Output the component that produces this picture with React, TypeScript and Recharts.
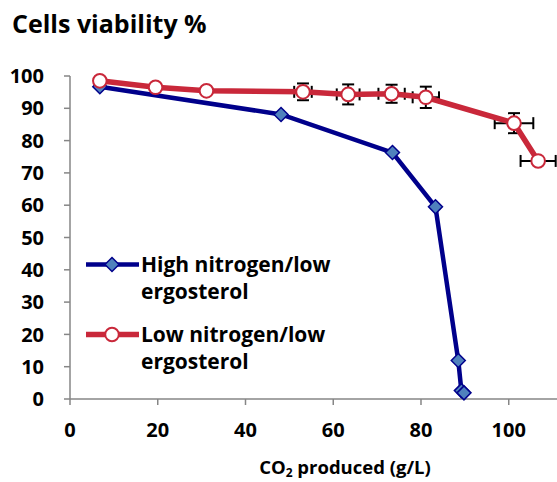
import { ComposedChart, Scatter, XAxis, YAxis, ErrorBar, Legend } from "recharts";

// CO2 produced (g/L) vs cells viability (%)
const highX = [6.8, 48.1, 73.5, 83.3, 88.5, 89.2, 89.8];
const highY = [96.7, 88.1, 76.3, 59.5, 11.9, 2.6, 1.9];

const lowX = [6.8, 19.5, 31.1, 53.1, 63.4, 73.3, 81.1, 101.2, 106.7];
const lowY = [98.5, 96.5, 95.4, 95.1, 94.3, 94.5, 93.4, 85.4, 73.7];
const lowErrX = [0, 0, 0, 2, 2.6, 3, 3, 4.4, 4];
const lowErrY = [0, 0.8, 0.6, 2.6, 3.1, 2.8, 3.3, 3.1, 0.5];

const xTicks = [0, 20, 40, 60, 80, 100];
const yTicks = [0, 10, 20, 30, 40, 50, 60, 70, 80, 90, 100];

const seriesNames = ["High nitrogen/low ergosterol", "Low nitrogen/low ergosterol"];

const BLUE = "#00008b";
const BLUE_FILL = "#4f81bd";
const RED = "#c9283a";
const AXIS = "#868686";
const FONT = "'Open Sans', Lato, sans-serif";

const highData = highX.map((x, i) => ({ x, y: highY[i] }));
const lowData = lowX.map((x, i) => ({ x, y: lowY[i], ex: lowErrX[i], ey: lowErrY[i] }));

function Diamond({ cx, cy }: { cx?: number; cy?: number }) {
  if (cx == null || cy == null) return null;
  const r = 7;
  return (
    <path
      d={`M${cx},${cy - r}L${cx + r},${cy}L${cx},${cy + r}L${cx - r},${cy}Z`}
      fill={BLUE_FILL}
      stroke={BLUE}
      strokeWidth={1.5}
    />
  );
}

function Ring({ cx, cy }: { cx?: number; cy?: number }) {
  if (cx == null || cy == null) return null;
  return <circle cx={cx} cy={cy} r={6.8} fill="#fff" stroke={RED} strokeWidth={2} />;
}

function renderLegend() {
  const entries = [
    { name: seriesNames[0], color: BLUE, width: 4.5, marker: "diamond", top: 0 },
    { name: seriesNames[1], color: RED, width: 5.5, marker: "ring", top: 70 },
  ];
  return (
    <div style={{ position: "relative", width: 260, height: 150 }}>
      {entries.map((e) => (
        <div key={e.name} style={{ position: "absolute", left: 0, top: e.top }}>
          <svg width={56} height={40} style={{ position: "absolute", left: 0, top: 0 }}>
            <line x1={1} y1={24.5} x2={54} y2={24.5} stroke={e.color} strokeWidth={e.width} />
            {e.marker === "diamond" ? <Diamond cx={27} cy={24.5} /> : <Ring cx={27} cy={24.5} />}
          </svg>
          <div
            style={{
              position: "absolute",
              left: 56,
              top: 11.4,
              fontFamily: FONT,
              fontWeight: 700,
              fontSize: 21,
              lineHeight: "27px",
              color: "#000",
              whiteSpace: "nowrap",
            }}
          >
            {e.name.replace(" ergosterol", "")}
            <br />
            ergosterol
          </div>
        </div>
      ))}
    </div>
  );
}

function XLabel() {
  return (
    <text x={345} y={474} textAnchor="middle" fontFamily={FONT} fontWeight={700} fontSize={18.5} fill="#000">
      CO
      <tspan dy={3} fontSize={12}>
        2
      </tspan>
      <tspan dy={-3}> produced (g/L)</tspan>
    </text>
  );
}

export default function App() {
  return (
    <div
      style={{
        position: "fixed",
        left: 0,
        top: 0,
        width: 557,
        height: 482,
        overflow: "hidden",
        background: "#fff",
      }}
    >
      <div
        style={{
          position: "absolute",
          left: 12,
          top: 11,
          fontFamily: FONT,
          fontWeight: 700,
          fontSize: 25,
          lineHeight: "25px",
          color: "#000",
        }}
      >
        Cells viability %
      </div>
      <ComposedChart width={557} height={482} margin={{ top: 76, right: 0, bottom: 0, left: 0 }}>
        <XAxis
          type="number"
          dataKey="x"
          domain={[0, 111]}
          ticks={xTicks}
          allowDataOverflow
          height={83}
          axisLine={{ stroke: AXIS, strokeWidth: 1.5 }}
          tickLine={{ stroke: AXIS, strokeWidth: 1.5 }}
          tickSize={6}
          tickMargin={18}
          tick={{ fill: "#000", fontSize: 20, fontWeight: 700, fontFamily: FONT }}
          label={<XLabel />}
        />
        <YAxis
          type="number"
          dataKey="y"
          domain={[0, 100]}
          ticks={yTicks}
          width={70}
          axisLine={{ stroke: AXIS, strokeWidth: 1.5 }}
          tickLine={{ stroke: AXIS, strokeWidth: 1.5 }}
          tickSize={6}
          tickMargin={20}
          tick={{ fill: "#000", fontSize: 20, fontWeight: 700, fontFamily: FONT }}
        />
        <Legend
          layout="vertical"
          align="center"
          verticalAlign="middle"
          content={renderLegend}
          wrapperStyle={{ left: 85, top: 240, width: 260 }}
        />
        <Scatter
          name={seriesNames[0]}
          data={highData}
          fill={BLUE}
          line={{ stroke: BLUE, strokeWidth: 4.5 }}
          shape={<Diamond />}
          isAnimationActive={false}
        />
        <Scatter
          name={seriesNames[1]}
          data={lowData}
          fill={RED}
          line={{ stroke: RED, strokeWidth: 5.5 }}
          shape={<Ring />}
          isAnimationActive={false}
        >
          <ErrorBar dataKey="ey" direction="y" width={6} stroke="#000" strokeWidth={2} />
          <ErrorBar dataKey="ex" direction="x" width={6} stroke="#000" strokeWidth={2} />
        </Scatter>
      </ComposedChart>
    </div>
  );
}
